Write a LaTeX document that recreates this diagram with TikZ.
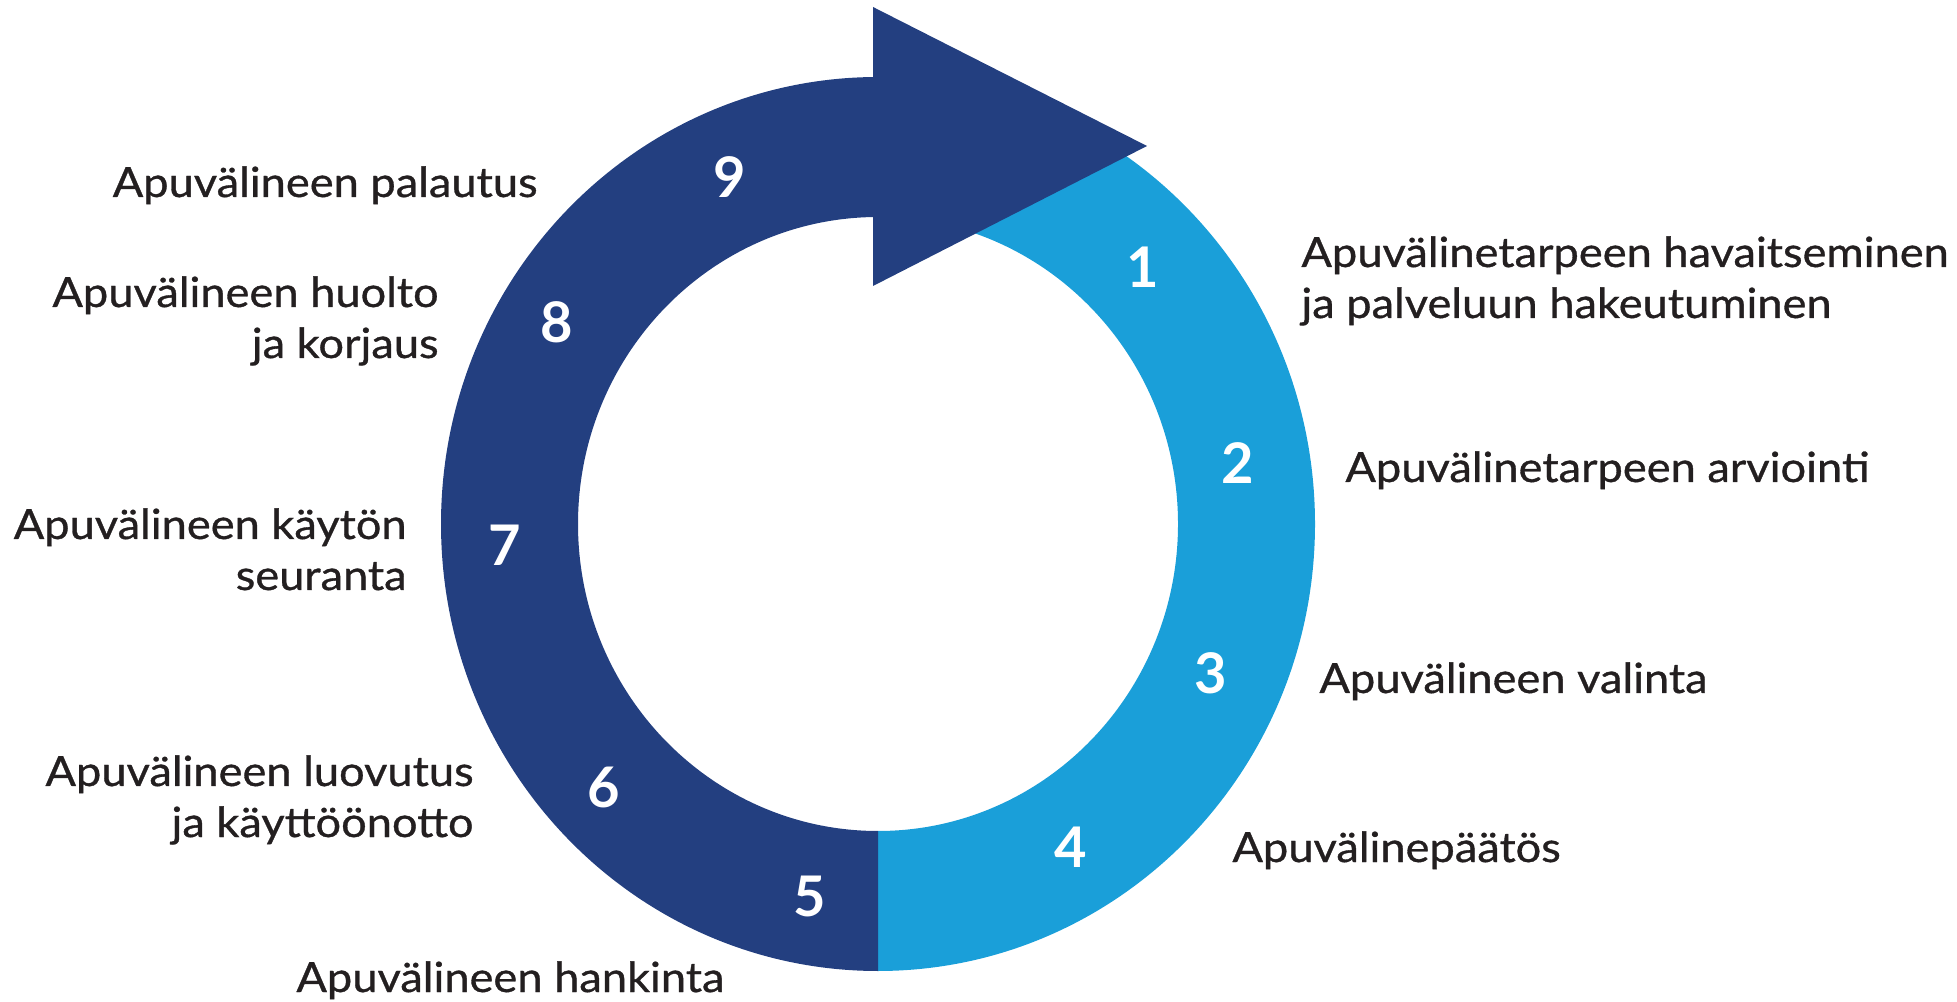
\documentclass[tikz,border=0pt]{standalone}
\usepackage{fontspec}
\setmainfont{Lato}
\newfontfamily\steplabelfont{Lato}[FakeStretch=1.087, FakeBold=0.8]
\usepackage{tikz}
\usetikzlibrary{positioning}
\definecolor{ring-navy}{HTML}{233F80}
\definecolor{ring-sky}{HTML}{1A9FD9}
\definecolor{label-ink}{HTML}{231F20}

\begin{document}
\begin{tikzpicture}[x=0.5pt, y=0.5pt]

    \useasboundingbox (0,0) rectangle (1957,1001);

    % ring
    \fill[ring-sky] (878,30) arc[start angle=-90, end angle=90, x radius=437, y radius=447]
        -- (878,784) arc[start angle=90, end angle=-90, x radius=300, y radius=307] -- cycle;
    \fill[ring-navy] (878,30) arc[start angle=270, end angle=90, x radius=437, y radius=447]
        -- (878,784) arc[start angle=90, end angle=270, x radius=300, y radius=307] -- cycle;

    % arrow head
    \fill[ring-navy] (873,994) -- (1147,855) -- (873,715) -- cycle;

    % step numbers
    \begin{scope}[every node/.style={text=white, inner sep=0pt,
                  font=\fontsize{28}{30}\selectfont\bfseries}]
        \node (n1) at (1143,734) {1};
        \node (n2) at (1238,538) {2};
        \node (n3) at (1211,328) {3};
        \node (n4) at (1071,154) {4};
        \node (n5) at (810,105) {5};
        \node (n6) at (604,214) {6};
        \node (n7) at (505,456) {7};
        \node (n8) at (557,679) {8};
        \node (n9) at (730,824) {9};
    \end{scope}

    % labels left (base = last line)
    \begin{scope}[every node/.style={text=label-ink, inner sep=0pt, anchor=base east, align=right,
                  font=\fontsize{20.8}{25.5}\selectfont\steplabelfont}]
        \node (l9) at (538,804) {Apuvälineen palautus};
        \node (l8) at (439,643) {Apuvälineen huolto\\ja korjaus};
        \node (l7) at (407,411) {Apuvälineen käytön\\seuranta};
        \node (l6) at (474,164) {Apuvälineen luovutus\\ja käyttöönotto};
    \end{scope}

    % labels right
    \begin{scope}[every node/.style={text=label-ink, inner sep=0pt, anchor=base west, align=left,
                  font=\fontsize{20.8}{25.5}\selectfont\steplabelfont}]
        \node (l5) at (296,9) {Apuvälineen hankinta};
        \node (l1) at (1301,683) {Apuvälinetarpeen havaitseminen\\ja palveluun hakeutuminen};
        \node (l2) at (1345,519) {Apuvälinetarpeen arviointi};
        \node (l3) at (1319,308) {Apuvälineen valinta};
        \node (l4) at (1232,139) {Apuvälinepäätös};
    \end{scope}

\end{tikzpicture}
\end{document}
